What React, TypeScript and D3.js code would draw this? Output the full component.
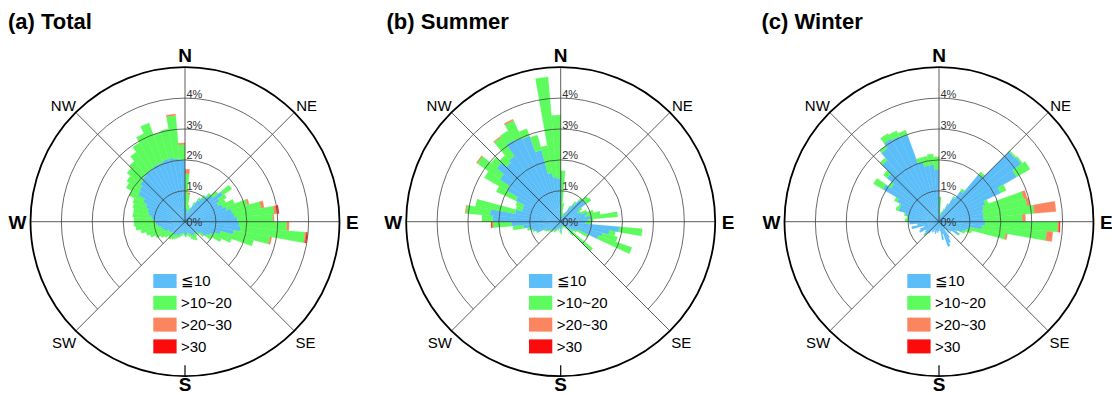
import React from 'react';
import * as d3 from 'd3';

// Direction bins: start angle (degrees clockwise from north), 5° wide
const directionBins = d3.range(0, 360, 5);
const binWidth = 5;

// Wind speed classes and their fills
const speedClasses = ['≦10', '>10~20', '>20~30', '>30'];
const classColors = ['#5bbef8', '#5dfb5d', '#fb855f', '#fb0b0b'];

// Frequency rings (%)
const ringTicks = [1, 2, 3, 4];
const maxFreq = 5;

// ---------- (a) Total: frequency (%) per direction bin ----------
const totalLe10 = [
  0.45, 0.4, 0.35, 0.3, 0.45, 0.6, 0.8, 0.95, 1.1, 1.2, 1.5, 1.3,
  1.2, 1.3, 1.4, 1.55, 1.6, 1.7, 1.75, 1.8, 1.6, 1.2, 1.0, 0.9,
  0.8, 0.6, 0.5, 0.45, 0.5, 0.55, 0.5, 0.45, 0.4, 0.35, 0.4, 0.45,
  0.4, 0.35, 0.4, 0.4, 0.45, 0.5, 0.5, 0.55, 0.55, 0.5, 0.55, 0.6,
  0.6, 0.7, 0.75, 0.8, 0.9, 0.95, 1.0, 1.1, 1.2, 1.25, 1.35, 1.5,
  1.75, 1.8, 1.9, 1.95, 2.0, 2.0, 2.05, 2.05, 2.1, 2.1, 2.05, 2.0,
];
const total10to20 = [
  1.1, 0.5, 0.2, 0.15, 0.05, 0.1, 0.1, 0.1, 0.1, 0.2, 0.35, 0.25,
  0.25, 0.4, 0.7, 0.95, 1.3, 1.15, 1.55, 2.1, 1.2, 1.1, 0.6, 0.4,
  0.2, 0.15, 0.1, 0.1, 0.1, 0.15, 0.15, 0.15, 0.1, 0.1, 0.05, 0.05,
  0.05, 0.05, 0.05, 0.1, 0.1, 0.1, 0.15, 0.15, 0.2, 0.2, 0.25, 0.3,
  0.45, 0.5, 0.55, 0.65, 0.7, 0.7, 0.65, 0.6, 0.5, 0.5, 0.45, 0.5,
  0.45, 0.5, 0.55, 0.6, 0.75, 0.95, 1.1, 1.35, 0.9, 0.95, 1.4, 0.5,
];
const total20to30 = [
  0.15, 0.05, 0, 0, 0, 0, 0, 0, 0, 0, 0, 0,
  0, 0, 0.05, 0.1, 0.12, 0.03, 0.07, 0.05, 0.05, 0, 0, 0,
  0, 0, 0, 0, 0, 0, 0, 0, 0, 0, 0, 0,
  0, 0, 0, 0, 0, 0, 0, 0, 0, 0, 0, 0,
  0, 0, 0, 0, 0, 0, 0, 0, 0, 0, 0, 0,
  0, 0, 0, 0, 0, 0, 0, 0, 0, 0, 0.05, 0.05,
];
const totalGt30 = [
  0, 0, 0, 0, 0, 0, 0, 0, 0, 0, 0, 0,
  0, 0, 0, 0, 0.03, 0, 0, 0.03, 0, 0, 0, 0,
  0, 0, 0, 0, 0, 0, 0, 0, 0, 0, 0, 0,
  0, 0, 0, 0, 0, 0, 0, 0, 0, 0, 0, 0,
  0, 0, 0, 0, 0, 0, 0, 0, 0, 0, 0, 0,
  0, 0, 0, 0, 0, 0, 0, 0, 0, 0, 0, 0,
];

// ---------- (b) Summer ----------
const summerLe10 = [
  0.2, 0.15, 0.1, 0.15, 0.2, 0.3, 0.5, 0.7, 0.9, 1.0, 1.0, 0.7,
  0.6, 0.7, 0.9, 0.8, 1.0, 0.9, 0.8, 1.9, 1.6, 1.4, 1.3, 0.6,
  0.5, 0.4, 0.5, 0.3, 0.2, 0.15, 0.15, 0.1, 0.15, 0.2, 0.15, 0.35,
  0.3, 0.15, 0.2, 0.25, 0.2, 0.3, 0.35, 0.3, 0.4, 0.35, 0.45, 0.5,
  0.55, 0.8, 0.9, 1.0, 1.2, 1.6, 2.2, 2.3, 1.5, 1.3, 1.3, 1.6,
  2.0, 2.4, 2.7, 2.5, 2.6, 3.05, 3.0, 2.95, 2.4, 1.6, 1.45, 1.4,
];
const summer10to20 = [
  1.45, 0.45, 0.2, 0.1, 0.1, 0.05, 0.1, 0.1, 0.1, 0.15, 0.2, 0.1,
  0.1, 0.2, 0.2, 0.5, 0.85, 0.15, 0.2, 0.75, 0.2, 0.5, 1.15, 0.4,
  0.1, 0.1, 0.85, 0.3, 0.1, 0.05, 0.05, 0.05, 0.05, 0.05, 0.05, 0.05,
  0.05, 0.05, 0.05, 0.05, 0.05, 0.05, 0.05, 0.05, 0.05, 0.05, 0.05, 0.05,
  0.05, 0.05, 0.05, 0.1, 0.35, 0.6, 0.35, 0.78, 1.3, 0.2, 0.25, 0.7,
  0.85, 0.9, 0.25, 0.3, 0.75, 0.35, 0.62, 0.25, 0.5, 0.9, 3.25, 2.05,
];
const summer20to30 = [
  0, 0, 0, 0, 0, 0, 0, 0, 0, 0, 0, 0,
  0, 0, 0, 0, 0, 0, 0, 0, 0, 0, 0, 0,
  0, 0, 0, 0, 0, 0, 0, 0, 0, 0, 0, 0,
  0, 0, 0, 0, 0, 0, 0, 0, 0, 0, 0, 0,
  0, 0, 0, 0, 0, 0.03, 0, 0.02, 0, 0, 0, 0,
  0, 0.03, 0, 0, 0.03, 0, 0.04, 0, 0, 0, 0, 0,
];
const summerGt30 = [
  0, 0, 0, 0, 0, 0, 0, 0, 0, 0, 0, 0,
  0, 0, 0, 0, 0, 0, 0, 0, 0, 0, 0, 0,
  0, 0, 0, 0, 0, 0, 0, 0, 0, 0, 0, 0,
  0, 0, 0, 0, 0, 0, 0, 0, 0, 0, 0, 0,
  0, 0, 0, 0, 0, 0.02, 0, 0, 0, 0, 0, 0,
  0, 0, 0, 0, 0, 0, 0, 0, 0, 0, 0, 0,
];

// ---------- (c) Winter ----------
const winterLe10 = [
  0.2, 0.2, 0.2, 0.3, 0.4, 0.6, 0.9, 1.2, 2.0, 3.2, 3.25, 2.9,
  2.2, 1.6, 1.5, 1.45, 1.45, 1.45, 1.5, 1.4, 1.0, 0.9, 0.8, 0.6,
  0.75, 0.5, 0.4, 0.5, 0.3, 0.6, 0.75, 0.85, 0.4, 0.6, 0.3, 0.2,
  0.3, 0.35, 0.3, 0.4, 0.35, 0.3, 0.4, 0.35, 0.5, 0.6, 0.55, 0.5,
  0.7, 0.65, 0.5, 0.9, 0.7, 0.95, 1.0, 1.0, 1.1, 1.35, 1.35, 1.5,
  2.1, 1.9, 2.2, 2.6, 2.9, 3.1, 3.05, 3.0, 2.0, 1.85, 1.85, 1.7,
];
const winter10to20 = [
  0.6, 0.1, 0.05, 0.05, 0.05, 0.05, 0.05, 0.1, 0.1, 0.05, 0.05, 0.5,
  0.2, 0.1, 1.35, 1.45, 1.65, 1.25, 2.35, 2.1, 1.2, 0.2, 0.1, 0.05,
  0.03, 0, 0, 0, 0, 0, 0, 0, 0, 0, 0, 0,
  0, 0, 0, 0, 0, 0, 0, 0, 0, 0.05, 0, 0,
  0, 0, 0, 0, 0, 0, 0.1, 0.05, 0.05, 0.1, 0.05, 0.1,
  0.35, 0.1, 0.15, 0.1, 0.1, 0.2, 0.2, 0.15, 0.15, 0.3, 0.35, 0.4,
];
const winter20to30 = [
  0, 0, 0, 0, 0, 0, 0, 0, 0, 0, 0, 0,
  0, 0, 0.1, 0.1, 0.7, 0.1, 0.05, 0.2, 0.05, 0, 0, 0,
  0, 0, 0, 0, 0, 0, 0, 0, 0, 0, 0, 0,
  0, 0, 0, 0, 0, 0, 0, 0, 0, 0, 0, 0,
  0, 0, 0, 0, 0, 0, 0, 0, 0, 0, 0, 0,
  0, 0, 0, 0, 0, 0, 0, 0, 0, 0, 0, 0,
];
const winterGt30 = [
  0, 0, 0, 0, 0, 0, 0, 0, 0, 0, 0, 0,
  0, 0, 0, 0, 0, 0, 0.02, 0, 0, 0, 0, 0,
  0, 0, 0, 0, 0, 0, 0, 0, 0, 0, 0, 0,
  0, 0, 0, 0, 0, 0, 0, 0, 0, 0, 0, 0,
  0, 0, 0, 0, 0, 0, 0, 0, 0, 0, 0, 0,
  0, 0, 0, 0, 0, 0, 0, 0, 0, 0, 0, 0,
];

const panels = [
  { title: '(a) Total', cx: 185, titleX: 8, series: [totalLe10, total10to20, total20to30, totalGt30] },
  { title: '(b) Summer', cx: 560.7, titleX: 386.5, series: [summerLe10, summer10to20, summer20to30, summerGt30] },
  { title: '(c) Winter', cx: 939, titleX: 761.5, series: [winterLe10, winter10to20, winter20to30, winterGt30] },
];

const CY = 221.7;
const R = 154.5;
const FONT = 'Arial, "Liberation Sans", Helvetica, sans-serif';

// Compass labels: angle in degrees clockwise from north, radius from centre
const compassLabels = [
  { text: 'N', angle: 0, radius: 167, bold: true },
  { text: 'E', angle: 90, radius: 167.3, bold: true },
  { text: 'S', angle: 180, radius: 162.5, bold: true },
  { text: 'W', angle: 270, radius: 167.5, bold: true },
  { text: 'NE', angle: 46.4, radius: 168, bold: false },
  { text: 'SE', angle: 135, radius: 170.6, bold: false },
  { text: 'SW', angle: 225, radius: 171, bold: false },
  { text: 'NW', angle: 313.6, radius: 168, bold: false },
];

const gridAngles = [0, 45, 90, 135, 225, 270, 315];

const rad = (deg: number) => (deg * Math.PI) / 180;

function Rose({ title, cx, titleX, series }: { title: string; cx: number; titleX: number; series: number[][] }) {
  const r = d3.scaleLinear().domain([0, maxFreq]).range([0, R]);
  const arcGen = d3.arc<any>();

  // stacked wedges per direction bin
  const wedges: { d: string; fill: string; key: string }[] = [];
  directionBins.forEach((dir, i) => {
    let base = 0;
    series.forEach((vals, k) => {
      const v = vals[i];
      if (v > 0) {
        const d = arcGen({
          innerRadius: r(base),
          outerRadius: r(base + v),
          startAngle: rad(dir),
          endAngle: rad(dir + binWidth),
        }) as string;
        wedges.push({ d, fill: classColors[k], key: `${i}-${k}` });
      }
      base += v;
    });
  });

  // frequency rings, left open across the southern sector
  const ringPath = (radius: number) => {
    const p = d3.path();
    const a0 = rad(225 - 90);
    const a1 = rad(135 - 90 + 360);
    p.moveTo(radius * Math.cos(a0), radius * Math.sin(a0));
    p.arc(0, 0, radius, a0, a1, false);
    return p.toString();
  };

  const legendX = -31.7;
  const legendY = 52.3;
  const legendStep = 21.8;

  return (
    <g>
      <text x={titleX} y={29} fontFamily={FONT} fontWeight="bold" fontSize={22} fill="#000">
        {title}
      </text>
      <g transform={`translate(${cx},${CY})`}>
        {wedges.map((w) => (
          <path key={w.key} d={w.d} fill={w.fill} stroke={w.fill} strokeWidth={0.3} />
        ))}
        {ringTicks.map((t) => (
          <path key={t} d={ringPath(r(t))} fill="none" stroke="#444" strokeWidth={0.8} />
        ))}
        {gridAngles.map((a) => (
          <line
            key={a}
            x1={0}
            y1={0}
            x2={R * Math.sin(rad(a))}
            y2={-R * Math.cos(rad(a))}
            stroke="#333"
            strokeWidth={0.8}
          />
        ))}
        <line x1={0} y1={R - 11} x2={0} y2={R} stroke="#000" strokeWidth={1.2} />
        <circle r={R} fill="none" stroke="#000" strokeWidth={1.8} />
        {ringTicks.map((t) => (
          <text key={t} x={1.5} y={-r(t) - 0.5} fontFamily={FONT} fontSize={11} fill="#333">
            {`${t}%`}
          </text>
        ))}
        <text x={1.5} y={3.8} fontFamily={FONT} fontSize={11} fill="#333">
          0%
        </text>
        {compassLabels.map((l) => (
          <text
            key={l.text}
            x={l.radius * Math.sin(rad(l.angle))}
            y={-l.radius * Math.cos(rad(l.angle))}
            dy={l.bold ? 6.8 : 5.4}
            textAnchor="middle"
            fontFamily={FONT}
            fontWeight={l.bold ? 'bold' : 'normal'}
            fontSize={l.bold ? 19 : 15}
            fill="#000"
          >
            {l.text}
          </text>
        ))}
        {speedClasses.map((c, k) => (
          <g key={c} transform={`translate(${legendX},${legendY + k * legendStep})`}>
            <rect width={23.3} height={14} fill={classColors[k]} />
            <text x={27.7} y={12.4} fontFamily={FONT} fontSize={15} fill="#000">
              {c}
            </text>
          </g>
        ))}
      </g>
    </g>
  );
}

export default function App() {
  return (
    <div style={{ position: 'absolute', left: 0, top: 0 }}>
      <svg width={1112} height={394} style={{ display: 'block', background: '#fff' }}>
        {panels.map((p) => (
          <Rose key={p.title} {...p} />
        ))}
      </svg>
    </div>
  );
}
